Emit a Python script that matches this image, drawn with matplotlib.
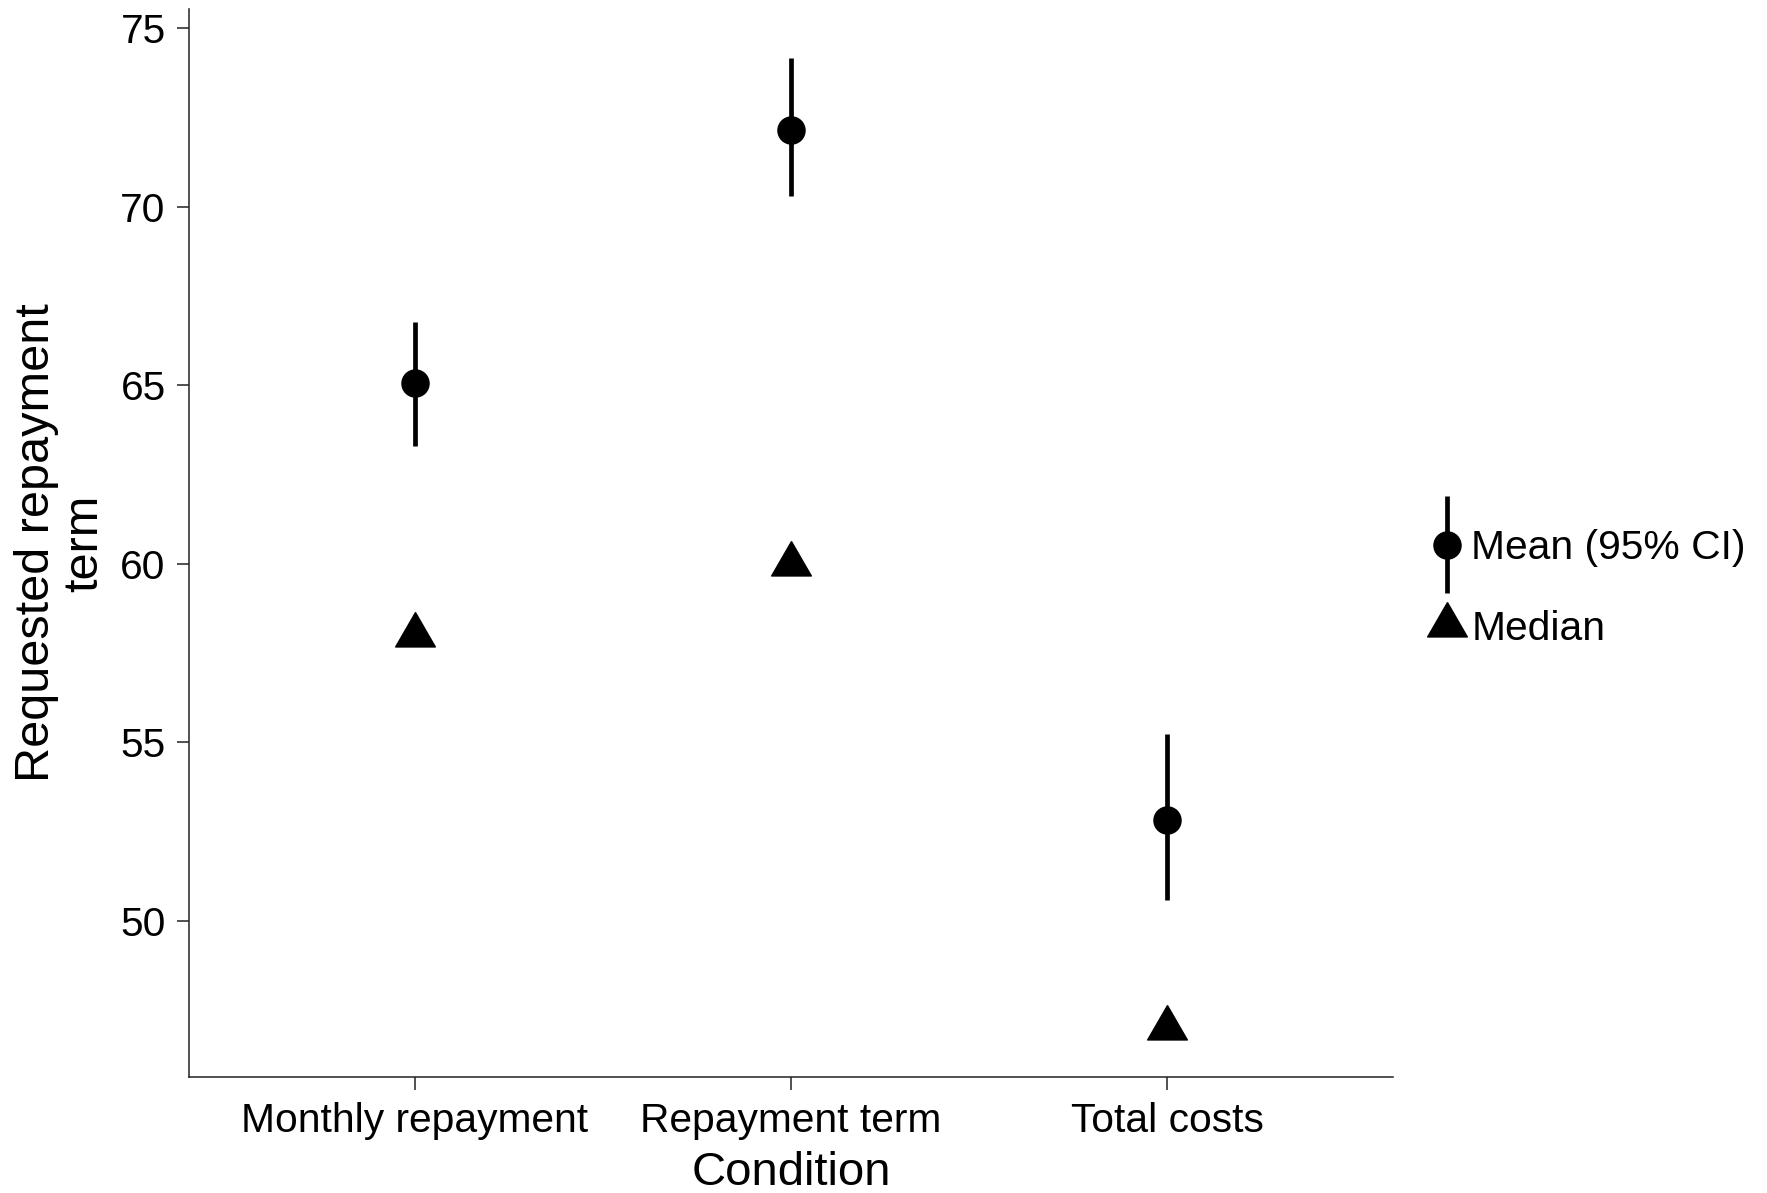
import matplotlib
matplotlib.use("Agg")
import matplotlib.pyplot as plt
from matplotlib.container import ErrorbarContainer
from matplotlib.legend_handler import HandlerErrorbar
import numpy as np

plt.rcParams['font.family'] = ['Liberation Sans', 'DejaVu Sans']

# summary statistics per condition
conditions = ['Monthly repayment', 'Repayment term', 'Total costs']
means = [65.07, 72.16, 52.82]
ci_low = [63.30, 70.31, 50.58]
ci_high = [66.77, 74.18, 55.24]
medians = [58, 60, 47]

x = np.arange(len(conditions))
means_arr = np.array(means)
yerr = [means_arr - np.array(ci_low), np.array(ci_high) - means_arr]

# equilateral triangle centred on its centroid
tri = [(0, 1), (-0.866, -0.5), (0.866, -0.5), (0, 1)]

fig = plt.figure(figsize=(17.67, 11.93), dpi=100)
ax = fig.add_axes([0.1071, 0.0975, 0.6812, 0.8949])

eb = ax.errorbar(x, means, yerr=yerr, fmt='o', color='black',
                 markersize=19.5, elinewidth=3.4, capsize=0,
                 label='Mean (95% CI)', zorder=3)
med, = ax.plot(x, medians, linestyle='none', marker=tri, color='black',
               markersize=33, label='Median', zorder=3)

lo = min(min(ci_low), min(medians))
hi = max(max(ci_high), max(medians))
pad = 0.05 * (hi - lo)
ax.set_ylim(lo - pad, hi + pad)
ax.set_xlim(-0.6, len(conditions) - 0.4)

ax.set_xticks(x)
ax.set_xticklabels(conditions)
ax.set_yticks([50, 55, 60, 65, 70, 75])

for side in ['top', 'right']:
    ax.spines[side].set_visible(False)
for side in ['left', 'bottom']:
    ax.spines[side].set_linewidth(1.1)
    ax.spines[side].set_color('#222222')
ax.tick_params(axis='both', length=9, width=1.1, color='#222222',
               labelsize=29.3, labelcolor='black')
ax.tick_params(axis='y', pad=8)
ax.tick_params(axis='x', pad=9)

ax.set_xlabel('Condition', fontsize=34)
ax.xaxis.set_label_coords(0.5, -0.0906)
ax.xaxis.label.set_va('center')
ax.set_ylabel('Requested repayment\nterm', fontsize=35, linespacing=1.08)
ax.yaxis.set_label_coords(-0.107, 0.5)
ax.yaxis.label.set_va('center')

ax.legend(handles=[eb, med], loc='center left',
          bbox_to_anchor=(0.8076, 0.507), bbox_transform=fig.transFigure,
          frameon=False, fontsize=29.3, handlelength=1.0,
          handletextpad=0.09, borderpad=0, borderaxespad=0,
          labelspacing=1.05,
          handler_map={ErrorbarContainer: HandlerErrorbar(yerr_size=1.2)})

fig.savefig('out.png', dpi=100)
